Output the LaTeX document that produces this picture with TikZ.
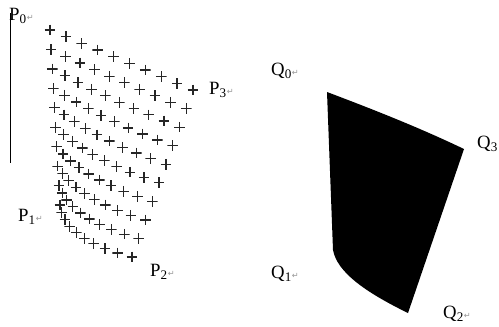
\documentclass[tikz,border=0pt]{standalone}
\usepackage{fontspec}
\setmainfont{Liberation Serif}
\newfontfamily\retfont{DejaVu Sans}
\definecolor{retgray}{RGB}{150,150,150}
\newcommand{\ret}{{\retfont\fontsize{7}{7}\selectfont\textcolor{retgray}{↵}}}

\begin{document}
\begin{tikzpicture}[
  x=0.03cm, y=-0.03cm,
  gridpt/.style={minimum size=0.32cm, inner sep=0pt,
    path picture={\draw[line width=1.05pt, draw=black!85]
      (path picture bounding box.north) -- (path picture bounding box.south)
      (path picture bounding box.west) -- (path picture bounding box.east);}},
  lbl/.style={anchor=base west, inner sep=0pt, font=\fontsize{16}{18}\selectfont}
]
\useasboundingbox (0,0) rectangle (499,326);

% left: sampled patch
\coordinate (axtop) at (10,13);
\coordinate (axbot) at (10,163);
\draw[line width=0.6pt] (axtop) -- (axbot);
\foreach \i in {0,...,9}{
  \foreach \j in {0,...,9}{
    \pgfmathsetmacro{\su}{\j/9}
    \pgfmathsetmacro{\sv}{\i/9}
    \pgfmathsetmacro{\px}{(1-\su)*(1-\sv)*50 + \su*(1-\sv)*193 + (1-\su)*\sv*60 + \su*\sv*132 - 64*\sv*\su*(1-\su)}
    \pgfmathsetmacro{\py}{(1-\su)*(1-\sv)*30 + \su*(1-\sv)*90 + (1-\su)*\sv*205 + \su*\sv*257 + 18*\sv*\su*(1-\su)}
    \node[gridpt] (p-\i-\j) at (\px,\py) {};
  }
}
\node[lbl] (P0) at (9,20) {P\textsubscript{0}\ret};
\node[lbl] (P3) at (209,94) {P\textsubscript{3}\ret};
\node[lbl] (P1) at (18,221) {P\textsubscript{1}\ret};
\node[lbl] (P2) at (150,276) {P\textsubscript{2}\ret};

% right: filled patch
\coordinate (q0) at (327,92);
\coordinate (q3) at (464,149);
\coordinate (q2) at (408,313);
\coordinate (q1) at (333,250);
\fill (q0) .. controls (372,109) and (418,127) .. (q3) -- (q2)
  .. controls (365,292) and (337,272) .. (q1) -- cycle;
\node[lbl] (Q0) at (271,75) {Q\textsubscript{0}\ret};
\node[lbl] (Q3) at (477,148) {Q\textsubscript{3}};
\node[lbl] (Q1) at (271,278) {Q\textsubscript{1}\ret};
\node[lbl] (Q2) at (443,318) {Q\textsubscript{2}\ret};
\end{tikzpicture}
\end{document}
